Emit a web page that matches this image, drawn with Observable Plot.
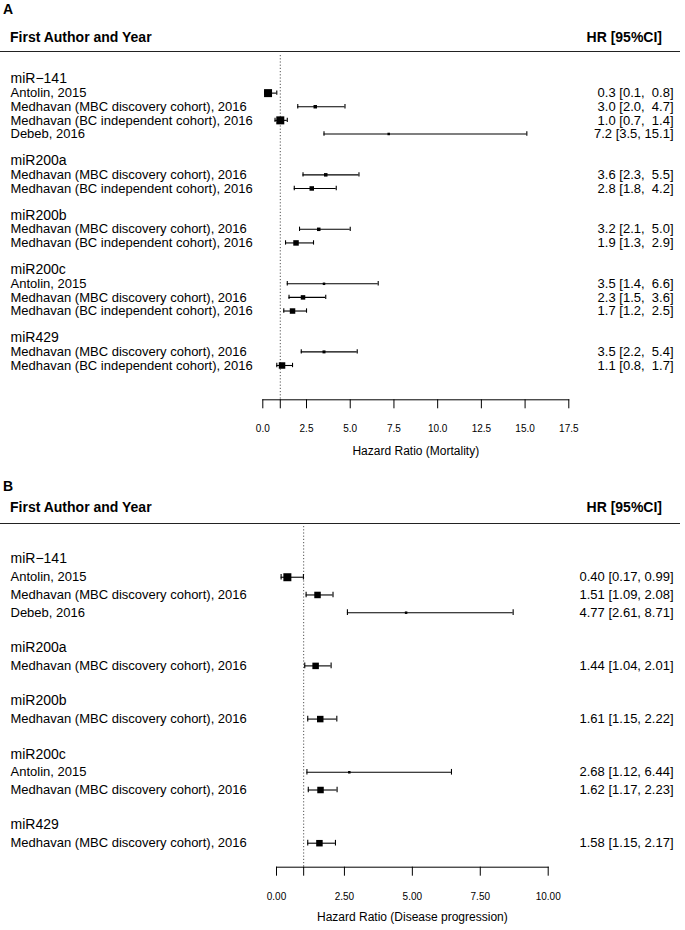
<!DOCTYPE html>
<html>
<head>
<meta charset="utf-8">
<script src="https://cdn.jsdelivr.net/npm/d3@7"></script>
<script src="https://cdn.jsdelivr.net/npm/@observablehq/plot@0.6"></script>
<style>
  body { margin: 0; background: white; }
  #fig { position: relative; width: 685px; height: 930px; font-family: "Liberation Sans", Arial, sans-serif; color: black; overflow: hidden; }
  .abs { position: absolute; height: 20px; line-height: 20px; white-space: nowrap; }
  .plabel { font-weight: bold; font-size: 14px; left: 3px; }
  .hdr { font-weight: bold; font-size: 14px; }
  .hline { position: absolute; left: 0; width: 680px; height: 1.3px; background: #222; }
  .svgwrap { position: absolute; left: 0; }
  svg text { white-space: pre; }
</style>
</head>
<body>
<div id="fig">
  <div class="abs plabel" style="top:-1px">A</div>
  <div class="abs hdr" style="top:26.5px;left:10px">First Author and Year</div>
  <div class="abs hdr" style="top:26.5px;right:23px">HR [95%CI]</div>
  <div class="hline" style="top:51px"></div>
  <div class="svgwrap" id="panelA" style="top:53px"></div>

  <div class="abs plabel" style="top:476px">B</div>
  <div class="abs hdr" style="top:497px;left:10px">First Author and Year</div>
  <div class="abs hdr" style="top:497px;right:23px">HR [95%CI]</div>
  <div class="hline" style="top:522.5px"></div>
  <div class="svgwrap" id="panelB" style="top:524px"></div>
</div>
<script>
// ---------- Panel A: Mortality ----------
const aGroups  = ["miR\u2212141", "miR200a", "miR200b", "miR200c", "miR429"];
const aGroupOf = [0, 0, 0, 0, 1, 1, 2, 2, 3, 3, 3, 4, 4];
const aStudies = [
  "Antolin, 2015",
  "Medhavan (MBC discovery cohort), 2016",
  "Medhavan (BC independent cohort), 2016",
  "Debeb, 2016",
  "Medhavan (MBC discovery cohort), 2016",
  "Medhavan (BC independent cohort), 2016",
  "Medhavan (MBC discovery cohort), 2016",
  "Medhavan (BC independent cohort), 2016",
  "Antolin, 2015",
  "Medhavan (MBC discovery cohort), 2016",
  "Medhavan (BC independent cohort), 2016",
  "Medhavan (MBC discovery cohort), 2016",
  "Medhavan (BC independent cohort), 2016"
];
const aHR     = [0.3, 3.0, 1.0, 7.2, 3.6, 2.8, 3.2, 1.9, 3.5, 2.3, 1.7, 3.5, 1.1];
const aLo     = [0.1, 2.0, 0.7, 3.5, 2.3, 1.8, 2.1, 1.3, 1.4, 1.5, 1.2, 2.2, 0.8];
const aHi     = [0.8, 4.7, 1.4, 15.1, 5.5, 4.2, 5.0, 2.9, 6.6, 3.6, 2.5, 5.4, 1.7];
const aWeight = [8, 3.5, 8, 2.5, 3.5, 4.5, 3.5, 5.5, 2.5, 4.5, 5.5, 3, 6.5];
const aTicks  = [0, 1, 2.5, 5, 7.5, 10, 12.5, 15, 17.5];
const aLabel  = "Hazard Ratio (Mortality)";

// ---------- Panel B: Disease progression ----------
const bGroups  = ["miR\u2212141", "miR200a", "miR200b", "miR200c", "miR429"];
const bGroupOf = [0, 0, 0, 1, 2, 3, 3, 4];
const bStudies = [
  "Antolin, 2015",
  "Medhavan (MBC discovery cohort), 2016",
  "Debeb, 2016",
  "Medhavan (MBC discovery cohort), 2016",
  "Medhavan (MBC discovery cohort), 2016",
  "Antolin, 2015",
  "Medhavan (MBC discovery cohort), 2016",
  "Medhavan (MBC discovery cohort), 2016"
];
const bHR     = [0.40, 1.51, 4.77, 1.44, 1.61, 2.68, 1.62, 1.58];
const bLo     = [0.17, 1.09, 2.61, 1.04, 1.15, 1.12, 1.17, 1.15];
const bHi     = [0.99, 2.08, 8.71, 2.01, 2.22, 6.44, 2.23, 2.17];
const bWeight = [8, 6.5, 2.5, 6.5, 6.5, 2.5, 6.5, 6.5];
const bTicks  = [0, 1, 2.5, 5, 7.5, 10];
const bLabel  = "Hazard Ratio (Disease progression)";

function buildRows(groups, groupOf, studies, hr, lo, hi, weight, digits) {
  const w = d3.max(hi, v => v.toFixed(digits).length);
  const groupRows = [], studyRows = [];
  let row = 0;
  groups.forEach((g, gi) => {
    groupRows.push({row, label: g});
    row++;
    studies.forEach((s, i) => {
      if (groupOf[i] !== gi) return;
      studyRows.push({
        row, study: s, hr: hr[i], lo: lo[i], hi: hi[i], weight: weight[i],
        ci: `${hr[i].toFixed(digits)} [${lo[i].toFixed(digits)}, ${hi[i].toFixed(digits).padStart(w)}]`
      });
      row++;
    });
    row++; // blank separator row
  });
  return {groupRows, studyRows, lastRow: row - 2};
}

function forest(cfg) {
  const {groupRows, studyRows, lastRow} = buildRows(cfg.groups, cfg.groupOf, cfg.studies, cfg.hr, cfg.lo, cfg.hi, cfg.weight, cfg.digits);
  const left = cfg.marginLeft, right = cfg.marginRight;
  const cap = 0.16;
  return Plot.plot({
    width: 685,
    height: cfg.height,
    marginTop: 2,
    marginBottom: cfg.marginBottom,
    marginLeft: left,
    marginRight: right,
    style: {fontFamily: '"Liberation Sans", Arial, sans-serif', color: "black", background: "white", overflow: "visible"},
    x: {domain: [0, d3.max(cfg.ticks)]},
    y: {domain: [0, lastRow], range: cfg.rowRange, axis: null},
    r: {type: "linear", domain: [0, 10], range: [0, 10 / Math.sqrt(Math.PI)]},
    marks: [
      Plot.ruleX([1], {stroke: "#555", strokeWidth: 1, strokeDasharray: "1.2,2"}),
      Plot.frame({anchor: "bottom", stroke: "black", strokeWidth: 1}),
      Plot.axisX({ticks: cfg.ticks, tickFormat: d => d === 1 ? "" : d.toFixed(cfg.tickDigits),
                  tickSize: 9, tickPadding: 16.5, fontSize: 10, label: null}),
      Plot.ruleY(studyRows, {y: "row", x1: "lo", x2: "hi", stroke: "black", strokeWidth: 1.1}),
      Plot.ruleX(studyRows, {x: "lo", y1: d => d.row - cap, y2: d => d.row + cap, stroke: "black", strokeWidth: 1.1}),
      Plot.ruleX(studyRows, {x: "hi", y1: d => d.row - cap, y2: d => d.row + cap, stroke: "black", strokeWidth: 1.1}),
      Plot.dot(studyRows, {x: "hr", y: "row", r: "weight", symbol: "square", fill: "black", stroke: null}),
      Plot.text(groupRows, {y: "row", text: "label", frameAnchor: "left", textAnchor: "start", dx: 10 - left, dy: -0.5, fontSize: 14}),
      Plot.text(studyRows, {y: "row", text: "study", frameAnchor: "left", textAnchor: "start", dx: 10 - left, fontSize: 13}),
      Plot.text(studyRows, {y: "row", text: "ci", frameAnchor: "right", textAnchor: "end", dx: right - 12, fontSize: 13}),
      Plot.text([cfg.xlabel], {frameAnchor: "bottom", dy: cfg.titleDy, fontSize: 12})
    ]
  });
}

document.getElementById("panelA").appendChild(forest({
  groups: aGroups, groupOf: aGroupOf, studies: aStudies, hr: aHR, lo: aLo, hi: aHi, weight: aWeight,
  ticks: aTicks, digits: 1, tickDigits: 1, xlabel: aLabel,
  height: 412, marginBottom: 65.7, marginLeft: 262.3, marginRight: 116.7,
  rowRange: [26, 312], titleDy: 55.5
}));

document.getElementById("panelB").appendChild(forest({
  groups: bGroups, groupOf: bGroupOf, studies: bStudies, hr: bHR, lo: bLo, hi: bHi, weight: bWeight,
  ticks: bTicks, digits: 2, tickDigits: 2, xlabel: bLabel,
  height: 406, marginBottom: 63.3, marginLeft: 276, marginRight: 137.3,
  rowRange: [35, 318.7], titleDy: 53.3
}));
</script>
</body>
</html>
